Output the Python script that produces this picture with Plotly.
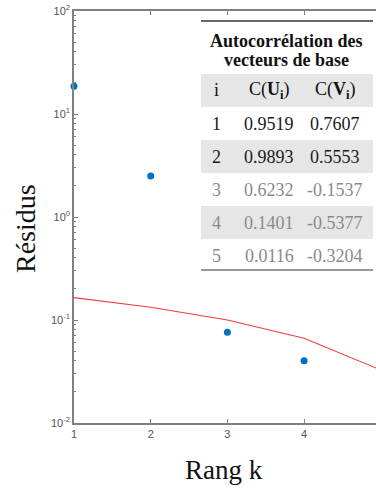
import plotly.graph_objects as go

# Residus par rang
rang = [1, 2, 3, 4]
residus = [18.6, 2.5, 0.076, 0.0403]

# seuil (courbe rouge)
rang_seuil = [1, 2, 3, 4, 5]
seuil = [0.165, 0.133, 0.100, 0.0664, 0.0327]

# tableau d'autocorrelation
tab_i = ["1", "2", "3", "4", "5"]
tab_cu = ["0.9519", "0.9893", "0.6232", "0.1401", "0.0116"]
tab_cv = ["0.7607", "0.5553", "-0.1537", "-0.5377", "-0.3204"]
tab_titre = ["Autocorrélation des", "vecteurs de base"]
tab_entete = ["i", "C(<b>U</b><sub><b>i</b></sub>)", "C(<b>V</b><sub><b>i</b></sub>)"]

W, H = 376, 488
L, R, T, B = 74, 0, 11, 65
pw, ph = W - L - R, H - T - B


def px(x):
    return (x - L) / pw


def py(y):
    return (H - B - y) / ph


def texte(t, x, y, size=18, color="#111111", **kw):
    return dict(text=t, xref="paper", yref="paper", x=px(x), y=py(y),
                xanchor="center", yanchor="middle", showarrow=False,
                font=dict(family="Liberation Serif", size=size, color=color), **kw)


fig = go.Figure()

fig.add_trace(go.Scatter(x=rang_seuil, y=seuil, mode="lines",
                         line=dict(color="#f03c3c", width=1.1),
                         showlegend=False))
fig.add_trace(go.Scatter(x=rang, y=residus, mode="markers",
                         marker=dict(color="#0072BD", size=7),
                         cliponaxis=False, showlegend=False))

shapes = []
annots = []

# table frame
tx0, tx1 = 201, 373
shapes.append(dict(type="line", xref="paper", yref="paper", x0=px(tx0), x1=px(tx1),
                   y0=py(21), y1=py(21), line=dict(color="#666666", width=2)))
for k, t in enumerate(tab_titre):
    annots.append(texte("<b>%s</b>" % t, 286, 41 + 19 * k))

row_h = 33
y_head = 90.5
col_x = [216.5, 269, 335]
for k in [0, 2, 4]:
    yc = y_head + row_h * k
    shapes.append(dict(type="rect", xref="paper", yref="paper", x0=px(tx0), x1=px(tx1),
                       y0=py(yc - row_h / 2), y1=py(yc + row_h / 2),
                       fillcolor="#e6e6e6", line=dict(width=0), layer="below"))
for j, t in enumerate(tab_entete):
    annots.append(texte(t, col_x[j], y_head))
for k in range(len(tab_i)):
    yc = y_head + row_h * (k + 1)
    col = "#1a1a1a" if k < 2 else "#8a8a8a"
    for j, t in enumerate([tab_i[k], tab_cu[k], tab_cv[k]]):
        annots.append(texte(t, col_x[j], yc, color=col))
shapes.append(dict(type="line", xref="paper", yref="paper", x0=px(tx0), x1=px(tx1),
                   y0=py(270), y1=py(270), line=dict(color="#777777", width=1.5)))

# axis titles
annots.append(texte("Rang k", 224, 470, size=27))
annots.append(texte("Résidus", 25, 229, size=28, textangle=-90))

minor_vals = [m * 10 ** e for e in range(-2, 2) for m in range(2, 10)]
tick_font = dict(family="Liberation Sans", size=11, color="#555555")

fig.update_layout(
    template="none",
    width=W, height=H,
    margin=dict(l=L, r=R, t=T, b=B),
    paper_bgcolor="white", plot_bgcolor="white",
    font=tick_font,
    shapes=shapes, annotations=annots,
    xaxis=dict(range=[1, 1 + pw / 76.7], tickvals=[1, 2, 3, 4], tickfont=tick_font,
               ticks="inside", ticklen=4, tickcolor="#808080",
               showline=True, linecolor="#808080", linewidth=1.5, mirror="ticks",
               showgrid=False, zeroline=False),
    yaxis=dict(type="log", range=[-2, 2], tickfont=tick_font,
               tickvals=[0.01, 0.1, 1, 10, 100],
               ticktext=["10<sup>-2</sup>", "10<sup>-1</sup>", "10<sup>0</sup>",
                         "10<sup>1</sup>", "10<sup>2</sup>"],
               ticks="inside", ticklen=4, tickcolor="#808080",
               minor=dict(tickvals=minor_vals, ticks="inside", ticklen=2, tickcolor="#808080"),
               showline=True, linecolor="#808080", linewidth=1.5,
               showgrid=False, zeroline=False),
)

fig.write_html("out.html", config={"displayModeBar": False},
               post_script="document.body.style.margin='0';document.body.style.overflow='hidden';")
